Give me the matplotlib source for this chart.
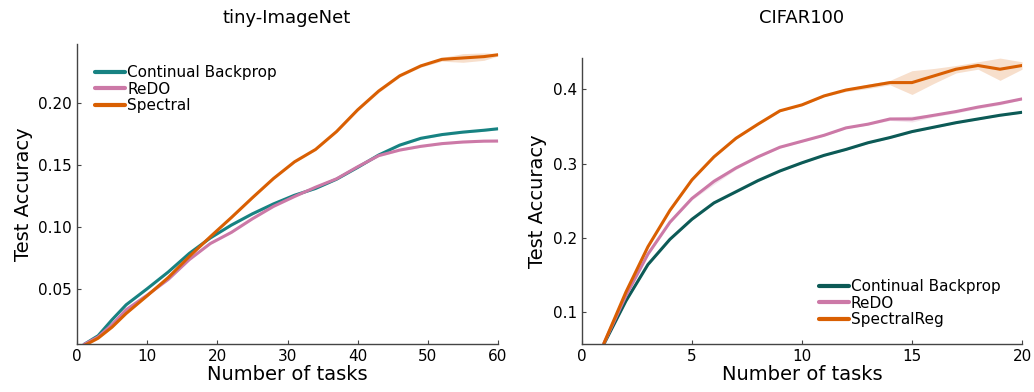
import numpy as np
import matplotlib
matplotlib.use("Agg")
import matplotlib.pyplot as plt

# tiny-ImageNet: smoothed test accuracy, read at selected tasks
tiny_tasks = [1, 3, 5, 7, 10, 13, 16, 19, 22, 25, 28, 31, 34, 37, 40, 43, 46, 49, 52, 55, 58, 60]
tiny_cbp = [0.005, 0.012, 0.025, 0.037, 0.050, 0.0635, 0.0785, 0.091, 0.1014, 0.1105, 0.1185, 0.1255,
            0.131, 0.1385, 0.148, 0.158, 0.166, 0.1715, 0.1745, 0.1765, 0.178, 0.1792]
tiny_redo = [0.005, 0.011, 0.021, 0.033, 0.0448, 0.0575, 0.0735, 0.0865, 0.0955, 0.1065, 0.1165, 0.1245,
             0.132, 0.1388, 0.1485, 0.1575, 0.162, 0.165, 0.1672, 0.1685, 0.1692, 0.1693]
tiny_spec = [0.004, 0.010, 0.019, 0.030, 0.0443, 0.059, 0.076, 0.092, 0.1075, 0.1235, 0.139, 0.1525,
             0.1625, 0.177, 0.1945, 0.2097, 0.222, 0.230, 0.2353, 0.2364, 0.2375, 0.239]
tiny_cbp_sd = [0.0008] * len(tiny_tasks)
tiny_redo_sd = [0.0008] * len(tiny_tasks)
tiny_spec_sd = [0.0008, 0.0008, 0.0008, 0.0008, 0.0008, 0.0008, 0.0008, 0.0008, 0.0008, 0.0008, 0.0008,
                0.0008, 0.0008, 0.0008, 0.001, 0.0012, 0.001, 0.001, 0.0015, 0.0035, 0.003, 0.001]

# CIFAR100: test accuracy per task
cifar_tasks = list(range(1, 21))
cifar_cbp = [0.057, 0.115, 0.164, 0.198, 0.225, 0.247, 0.262, 0.277, 0.290, 0.301,
             0.311, 0.319, 0.328, 0.335, 0.343, 0.349, 0.355, 0.360, 0.365, 0.369]
cifar_redo = [0.058, 0.122, 0.178, 0.221, 0.253, 0.276, 0.294, 0.309, 0.322, 0.330,
              0.338, 0.348, 0.353, 0.360, 0.360, 0.365, 0.370, 0.376, 0.381, 0.387]
cifar_spec = [0.058, 0.127, 0.188, 0.237, 0.278, 0.309, 0.334, 0.353, 0.371, 0.379,
              0.391, 0.399, 0.404, 0.409, 0.409, 0.418, 0.427, 0.432, 0.427, 0.432]
cifar_cbp_sd = [0.001] * 20
cifar_redo_sd = [0.001, 0.001, 0.001, 0.001, 0.002, 0.004, 0.002, 0.001, 0.001, 0.001,
                 0.001, 0.001, 0.001, 0.002, 0.004, 0.002, 0.002, 0.002, 0.002, 0.001]
cifar_spec_sd = [0.001, 0.001, 0.001, 0.001, 0.001, 0.001, 0.001, 0.001, 0.001, 0.001,
                 0.001, 0.002, 0.003, 0.003, 0.016, 0.010, 0.005, 0.005, 0.015, 0.005]

ORANGE = "#d95f02"
PINK = "#cc79a7"
TEAL = "#178282"
DARK_TEAL = "#0c5a56"

plt.rcParams["font.family"] = "DejaVu Sans"

fig = plt.figure(figsize=(10.34, 3.92), dpi=100)
ax1 = fig.add_axes([0.0745, 0.1224, 0.4071, 0.7654])
ax2 = fig.add_axes([0.5628, 0.1224, 0.4256, 0.7304])


def draw(ax, x, series, colors, labels):
    for (mean, sd), c, lab in zip(series, colors, labels):
        mean = np.asarray(mean)
        sd = np.asarray(sd)
        ax.fill_between(x, mean - sd, mean + sd, color=c, alpha=0.2, lw=0)
        ax.plot(x, mean, color=c, lw=2.2, label=lab, solid_capstyle="round")


draw(ax1, tiny_tasks,
     [(tiny_cbp, tiny_cbp_sd), (tiny_redo, tiny_redo_sd), (tiny_spec, tiny_spec_sd)],
     [TEAL, PINK, ORANGE], ["Continual Backprop", "ReDO", "Spectral"])
draw(ax2, cifar_tasks,
     [(cifar_cbp, cifar_cbp_sd), (cifar_redo, cifar_redo_sd), (cifar_spec, cifar_spec_sd)],
     [DARK_TEAL, PINK, ORANGE], ["Continual Backprop", "ReDO", "SpectralReg"])

ax1.set_xlim(0, 60)
ax1.set_ylim(0.0053, 0.2477)
ax1.set_xticks([0, 10, 20, 30, 40, 50, 60])
ax1.set_yticks([0.05, 0.10, 0.15, 0.20])
ax1.set_yticklabels(["0.05", "0.10", "0.15", "0.20"])

ax2.set_xlim(0, 20)
ax2.set_ylim(0.057, 0.4425)
ax2.set_xticks([0, 5, 10, 15, 20])
ax2.set_yticks([0.1, 0.2, 0.3, 0.4])
ax2.set_yticklabels(["0.1", "0.2", "0.3", "0.4"])

for ax in (ax1, ax2):
    for side in ("top", "right"):
        ax.spines[side].set_visible(False)
    for side in ("left", "bottom"):
        ax.spines[side].set_color("#444444")
        ax.spines[side].set_linewidth(1.0)
    ax.tick_params(direction="in", length=3, width=0.8, labelsize=11, colors="#444444",
                   labelcolor="black")
    ax.set_xlabel("Number of tasks", fontsize=14, labelpad=1)
    ax.set_ylabel("Test Accuracy", fontsize=14)

leg_kw = dict(frameon=False, fontsize=11, handlelength=2.0, handletextpad=0.1,
              labelspacing=0.1, borderaxespad=0)
leg1 = ax1.legend(loc="upper left", bbox_to_anchor=(0.028, 0.95), **leg_kw)
leg2 = ax2.legend(loc="lower right", bbox_to_anchor=(0.965, 0.037), **leg_kw)
for leg in (leg1, leg2):
    for line in leg.get_lines():
        line.set_linewidth(3.0)

fig.text(0.2775, 0.955, "tiny-ImageNet", ha="center", va="center", fontsize=13)
fig.text(0.7756, 0.955, "CIFAR100", ha="center", va="center", fontsize=13)

fig.savefig("out.png", dpi=100)
